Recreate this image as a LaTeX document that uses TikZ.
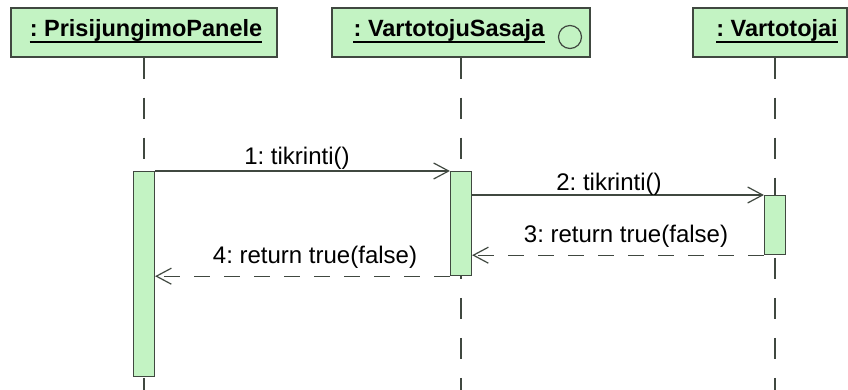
\documentclass[tikz,border=0pt]{standalone}
\usepackage{fontspec}
\setmainfont{Liberation Sans}
\frenchspacing
\usetikzlibrary{arrows.meta,calc}
\definecolor{actgreen}{RGB}{195,243,195}
\definecolor{linegray}{RGB}{64,72,64}

\begin{document}
\begin{tikzpicture}[x=1pt,y=-1pt,
  hdr/.style={draw=linegray,fill=actgreen,line width=1.5pt,minimum height=49pt,inner sep=0pt},
  ttl/.style={font=\fontsize{23.5}{28}\selectfont\bfseries,anchor=base,inner sep=0pt},
  act/.style={draw=linegray,fill=actgreen,line width=1.2pt,minimum width=21pt,inner sep=0pt,anchor=north},
  life/.style={linegray,line width=1.3pt,dash pattern=on 21pt off 19pt},
  msg/.style={linegray,line width=1.2pt,-{Straight Barb[length=15pt,width=16pt]}},
  ret/.style={msg,dash pattern=on 16pt off 14pt},
  lbl/.style={font=\fontsize{24}{28}\selectfont,anchor=base,inner sep=0pt}]
\useasboundingbox (0,0) rectangle (848,390);
\fill[white] (0,0) rectangle (848,390);

\node[hdr,minimum width=266pt] (hPanel) at (144,32.5) {};
\node[hdr,minimum width=258pt] (hSasaja) at (461,32.5) {};
\node[hdr,minimum width=154pt] (hVart) at (770,32.5) {};
\node[ttl] (tPanel) at (146,37) {: PrisijungimoPanele};
\node[ttl] (tSasaja) at (449,37) {: VartotojuSasaja};
\node[ttl] (tVart) at (777,37) {: Vartotojai};
\node[draw=linegray,line width=1.2pt,circle,minimum size=23pt,inner sep=0pt] (ctl) at (570,37) {};
\foreach \t in {tPanel,tSasaja,tVart}
  \draw[line width=1.5pt] ($(\t.base west)+(0,5)$) -- ($(\t.base east)+(0,5)$);

% lifelines
\coordinate (bottom) at (0,390);
\coordinate (xPanel) at (144,0);
\coordinate (xSasaja) at (461,0);
\coordinate (xVart) at (775,0);
\foreach \h/\x in {hPanel/xPanel,hSasaja/xSasaja,hVart/xVart}
  \draw[life] (\h.south -| \x) -- (\x |- bottom);

% activation bars
\node[act,minimum height=205pt] (aPanel) at (xPanel |- 0,171) {};
\node[act,minimum height=104pt] (aSasaja) at (xSasaja |- 0,171) {};
\node[act,minimum height=59pt] (aVart) at (xVart |- 0,195) {};

\draw[msg] (aPanel.north east) -- (aSasaja.north west);
\draw[msg] (aSasaja.east |- aVart.north) -- (aVart.north west);
\draw[ret] (aVart.south west) -- (aVart.south west -| aSasaja.east);
\draw[ret] (aSasaja.south west) -- (aSasaja.south west -| aPanel.east);

\node[lbl] (m1) at (297,165) {1: tikrinti()};
\node[lbl] (m2) at (609,190) {2: tikrinti()};
\node[lbl] (m3) at (626,242) {3: return true(false)};
\node[lbl] (m4) at (315,263) {4: return true(false)};
\end{tikzpicture}
\end{document}
